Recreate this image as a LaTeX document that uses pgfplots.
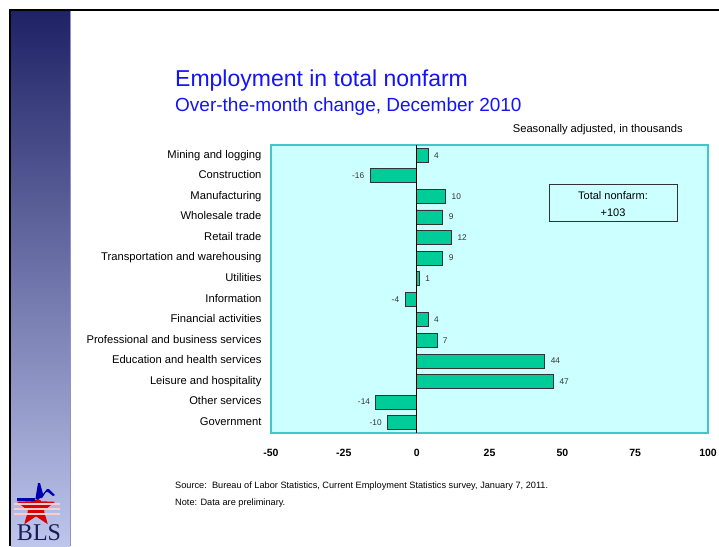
\documentclass[border=0pt]{standalone}
\usepackage{fontspec}
\setmainfont{Liberation Sans}
\newfontfamily\serifbls{Liberation Serif}
\usepackage{pgfplots}
\pgfplotsset{compat=1.18}
\usepackage{pgfplotstable}
\usetikzlibrary{shapes.geometric}
\definecolor{barfill}{RGB}{0,204,153}
\definecolor{plotbg}{RGB}{204,255,255}
\definecolor{plotframe}{RGB}{64,200,200}
\definecolor{titleblue}{RGB}{20,20,250}
\definecolor{navy}{RGB}{30,34,102}
\definecolor{lav}{RGB}{190,198,236}
\pgfplotstableread{
y val
13 4
12 -16
11 10
10 9
9 12
8 9
7 1
6 -4
5 4
4 7
3 44
2 47
1 -14
0 -10
}\datatab
\begin{document}
\begin{tikzpicture}[x=1pt,y=1pt]
\useasboundingbox (0,0) rectangle (719,546);
\fill[white] (0,0) rectangle (719,546);
% slide frame
\shade[top color=navy, bottom color=lav] (11,0) rectangle (70,536);
\draw[color=lav!70!navy, line width=1pt] (70.5,0) -- (70.5,536);
\draw[black, line width=2pt] (9,536) -- (719,536);
\draw[black, line width=2pt] (10,0) -- (10,537);
% logo
\begin{scope}
\clip (11,0) rectangle (70,46);
\node[star, star points=5, star point ratio=2.4, fill=red!85!black, minimum size=40pt, inner sep=0pt] at (36,38) {};
\foreach \yy in {31,36,41} {\fill[white!80!red] (14,\yy) rectangle (60,\yy+1.6);}
\end{scope}
\fill[blue!70!black] (17,45) -- (35,45) -- (38,63) -- (40,63) -- (43,52) -- (47,57) -- (49,57) -- (55,51) -- (53,50) -- (48,54) -- (46,54) -- (42,48) -- (40,48) -- (38,46) -- (36,47) -- (36,48) -- (17,48) -- cycle;
\node[anchor=base, font=\serifbls\fontsize{24}{24}\selectfont, text=navy!85!black, inner sep=0pt] at (39,6) {BLS};
% titles
\node[anchor=base west, inner sep=0pt, text=titleblue, font=\fontsize{23}{23}\selectfont] at (175,459) {Employment in total nonfarm};
\node[anchor=base west, inner sep=0pt, text=titleblue, font=\fontsize{19}{19}\selectfont] at (175,434) {Over-the-month change, December 2010};
\node[anchor=base east, inner sep=0pt, font=\fontsize{11.2}{11.2}\selectfont] at (683,413) {Seasonally adjusted, in thousands};
\node[anchor=base west, inner sep=0pt, font=\fontsize{9.2}{9.2}\selectfont] at (175,58) {Source:\ \ Bureau of Labor Statistics, Current Employment Statistics survey, January 7, 2011.};
\node[anchor=base west, inner sep=0pt, font=\fontsize{9.2}{9.2}\selectfont] at (175,41) {Note: Data are preliminary.};
\begin{axis}[
  at={(271pt,113pt)}, anchor=south west,
  scale only axis, width=437pt, height=288pt,
  xmin=-50, xmax=100, ymin=-0.5, ymax=13.5,
  xtick={-50,-25,0,25,50,75,100},
  ytick={0,...,13},
  yticklabels={Government,Other services,Leisure and hospitality,Education and health services,Professional and business services,Financial activities,Information,Utilities,Transportation and warehousing,Retail trade,Wholesale trade,Manufacturing,Construction,Mining and logging},
  major tick length=0pt,
  axis background/.style={fill=plotbg},
  axis line style={draw=plotframe, line width=1.2pt},
  xticklabel style={font=\bfseries\fontsize{10.5}{10.5}\selectfont, yshift=-13pt},
  yticklabel style={font=\fontsize{11.2}{12}\selectfont, xshift=-6pt, text height=8pt, text depth=2.4pt},
  /pgf/number format/assume math mode=true,
  xbar, bar width=14pt,
  nodes near coords,
  nodes near coords align={horizontal},
  every node near coord/.append style={font=\fontsize{8.3}{8.3}\selectfont, text=black!80, inner sep=5.5pt},
  clip=false,
]
\addplot[fill=barfill, draw=black!80, line width=0.8pt] table[x=val, y=y] {\datatab};
\draw[black, line width=1pt] (axis cs:0,-0.5) -- (axis cs:0,13.5);
\end{axis}
\draw[black!80, line width=0.8pt, fill=plotbg] (549,325) rectangle (677,362);
\node[font=\fontsize{11}{11}\selectfont, inner sep=0pt] at (613,350) {Total nonfarm:};
\node[font=\fontsize{11}{11}\selectfont, inner sep=0pt] at (613,333) {+103};
\end{tikzpicture}
\end{document}
